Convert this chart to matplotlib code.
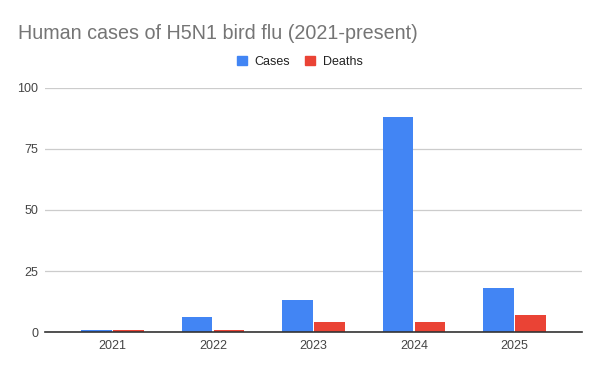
import numpy as np
import matplotlib
matplotlib.use("Agg")
import matplotlib.pyplot as plt
from matplotlib.patches import Patch

years = ["2021", "2022", "2023", "2024", "2025"]
cases = [1, 6, 13, 88, 18]
deaths = [1, 1, 4, 4, 7]
yticks = [0, 25, 50, 75, 100]

plt.rcParams['font.family'] = ['Liberation Sans', 'DejaVu Sans']

fig = plt.figure(figsize=(6, 3.71), dpi=100)
ax = fig.add_axes([0.075, 0.105, 0.895, 0.658])

x = np.arange(len(years))
w = 0.305
ax.bar(x - 0.16, cases, w, color='#4285F4', label='Cases', zorder=3)
ax.bar(x + 0.16, deaths, w, color='#EA4335', label='Deaths', zorder=3)

ax.set_ylim(0, 100)
ax.set_xlim(-0.67, 4.67)
ax.set_yticks(yticks)
ax.set_xticks(x)
ax.set_xticklabels(years)
ax.tick_params(axis='both', length=0, labelsize=9, colors='#444444')
ax.tick_params(axis='y', pad=5)
ax.tick_params(axis='x', pad=6)
ax.grid(axis='y', color='#cccccc', linewidth=0.9, zorder=0)
for s in ['top', 'right', 'left']:
    ax.spines[s].set_visible(False)
ax.spines['bottom'].set_color('#333333')
ax.spines['bottom'].set_linewidth(1.2)
ax.spines['bottom'].set_zorder(4)

fig.text(0.03, 0.91, "Human cases of H5N1 bird flu (2021-present)", fontsize=14.2,
         color='#757575', va='center', ha='left')

handles = [Patch(color='#4285F4'), Patch(color='#EA4335')]
fig.legend(handles, ['Cases', 'Deaths'], loc='center', bbox_to_anchor=(0.5, 0.833),
           ncol=2, frameon=False, fontsize=9, handlelength=0.8, handleheight=0.8,
           handletextpad=0.6, columnspacing=1.2, labelcolor='#222222')

fig.savefig('out.png', dpi=100)
